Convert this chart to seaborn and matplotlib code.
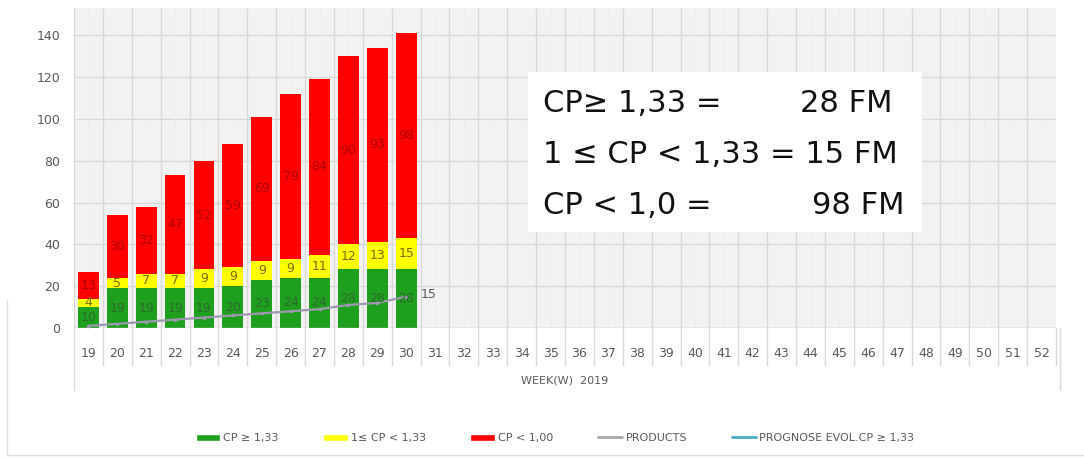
import matplotlib
matplotlib.use("Agg")
import matplotlib.pyplot as plt
import matplotlib.transforms as mtransforms
from matplotlib.patches import Patch, Rectangle
from matplotlib.lines import Line2D
import numpy as np
import pandas as pd
import seaborn as sns

# ---- data -------------------------------------------------------------
all_weeks = [str(w) for w in range(19, 53)]
weeks = ["19", "20", "21", "22", "23", "24", "25", "26", "27", "28", "29", "30"]
cp_good = [10, 19, 19, 19, 19, 20, 23, 24, 24, 28, 28, 28]      # CP >= 1,33
cp_mid = [4, 5, 7, 7, 9, 9, 9, 9, 11, 12, 13, 15]               # 1 <= CP < 1,33
cp_bad = [13, 30, 32, 47, 52, 59, 69, 79, 84, 90, 93, 98]       # CP < 1,00
products = [1, 2, 3, 4, 5, 6, 7, 8, 9, 11, 12, 15]
y_ticks = [0, 20, 40, 60, 80, 100, 120, 140]

summary_left = ["CP\u2265 1,33 =", "1 \u2264 CP < 1,33 = 15 FM", "CP < 1,0 ="]
summary_right = ["28 FM", "", "98 FM"]

legend_labels = ["CP \u2265 1,33", "1\u2264 CP < 1,33", "CP < 1,00",
                 "PRODUCTS", "PROGNOSE EVOL.CP \u2265 1,33"]

GREEN, YELLOW, RED = "#1ea01e", "#ffff00", "#ff0000"
GRID = "#d9d9d9"
TXT = "#595959"

df = pd.DataFrame({"week": weeks, "good": cp_good, "mid": cp_mid, "bad": cp_bad,
                   "products": products})
df["mid_top"] = df["good"] + df["mid"]
df["total"] = df["mid_top"] + df["bad"]

# ---- figure -----------------------------------------------------------
sns.set_theme(style="white")
plt.rcParams["font.family"] = ["DejaVu Sans"]

W, H = 1084, 459
fig = plt.figure(figsize=(W / 100, H / 100), dpi=100)
ax = fig.add_axes([74 / W, 1 - 328 / H, (1056 - 74) / W, (328 - 8) / H])
ax.set_facecolor("#f2f2f2")

# stacked bars: draw cumulative totals on top of each other
bw = 0.72
sns.barplot(data=df, x="week", y="total", order=all_weeks, color=RED,
            width=bw, saturation=1, ax=ax, zorder=3, linewidth=0)
sns.barplot(data=df, x="week", y="mid_top", order=all_weeks, color=YELLOW,
            width=bw, saturation=1, ax=ax, zorder=3, linewidth=0)
sns.barplot(data=df, x="week", y="good", order=all_weeks, color=GREEN,
            width=bw, saturation=1, ax=ax, zorder=3, linewidth=0)

pos = np.array([all_weeks.index(w) for w in weeks])

# products line
sns.lineplot(x=pos, y=df["products"].values, ax=ax, color="#9d98b0",
             linewidth=1.6, zorder=5, marker="o", markersize=2.5,
             markeredgewidth=0)

# segment value labels
for i, p in enumerate(pos):
    g, m, b = cp_good[i], cp_mid[i], cp_bad[i]
    ax.text(p, g / 2, str(g), ha="center", va="center", fontsize=9,
            color="#2d6b2d", zorder=6)
    ax.text(p, g + m / 2, str(m), ha="center", va="center", fontsize=9,
            color="#7a6a00", zorder=6)
    ax.text(p, g + m + b / 2, str(b), ha="center", va="center", fontsize=9,
            color="#b00000", zorder=6)
ax.text(pos[-1] + 0.5, products[-1] + 1, str(products[-1]), ha="left",
        va="center", fontsize=9, color=TXT, zorder=6)

# axes limits, grid
ax.set_xlim(-0.5, len(all_weeks) - 0.5)
ax.set_ylim(0, 153)
ax.set_yticks(y_ticks)
ax.set_yticklabels([str(v) for v in y_ticks])
ax.tick_params(axis="y", length=0, pad=10, labelsize=9, labelcolor=TXT)
ax.tick_params(axis="x", length=0, pad=14, labelsize=9, labelcolor=TXT)
ax.set_xlabel("")
ax.set_ylabel("")
for s in ax.spines.values():
    s.set_visible(False)
for v in y_ticks[1:]:
    ax.axhline(v, color=GRID, linewidth=1, zorder=1)
ax.axhline(0, color="#bfbfbf", linewidth=1, zorder=4)
for k in range(len(all_weeks)):
    ax.axvline(k - 0.5, color=GRID, linewidth=1, zorder=1)
    ax.axvline(k, color="#ebebeb", linewidth=0.5, zorder=1)

# category separators below the axis
trans = mtransforms.blended_transform_factory(ax.transData, ax.transAxes)
for k in range(1, len(all_weeks) + 1):
    ax.plot([k - 0.5, k - 0.5], [0, -0.115], transform=trans, color=GRID,
            linewidth=1, clip_on=False)
for xb in (-0.5, len(all_weeks) - 0.35):
    ax.plot([xb, xb], [0, -0.195], transform=trans, color=GRID,
            linewidth=1, clip_on=False)
ax.text(0.5, -0.165, "WEEK(W)  2019", transform=ax.transAxes, ha="center",
        va="center", fontsize=8, color=TXT)

# summary box
ax.add_patch(Rectangle((0.462, 0.30), 0.4015, 0.50, transform=ax.transAxes,
                       facecolor="white", edgecolor="none", zorder=7))
ys = [0.703, 0.541, 0.384]
rx = [0.834, None, 0.846]
for y, lt, rt, r in zip(ys, summary_left, summary_right, rx):
    ax.text(0.4776, y, lt, transform=ax.transAxes, ha="left", va="center",
            fontsize=22, color="#111111", zorder=8)
    if rt:
        ax.text(r, y, rt, transform=ax.transAxes, ha="right", va="center",
                fontsize=22, color="#111111", zorder=8)

# legend
handles = [Patch(facecolor=GREEN), Patch(facecolor=YELLOW), Patch(facecolor=RED),
           Line2D([], [], color="#a6a6a6", linewidth=2),
           Line2D([], [], color="#4bacc6", linewidth=2)]
leg = fig.legend(handles, legend_labels, loc="center", ncol=5,
                 bbox_to_anchor=(0.512, 1 - 438 / H), frameon=False,
                 fontsize=8, handlelength=2.2, handleheight=0.6,
                 columnspacing=4.0, handletextpad=0.3)
for t in leg.get_texts():
    t.set_color(TXT)

# outer frame lines
fig.add_artist(Line2D([7 / W, 7 / W], [1 - 455 / H, 1 - 300 / H],
                      transform=fig.transFigure, color="#e0e0e0", linewidth=1))
fig.add_artist(Line2D([7 / W, 1], [1 - 455 / H, 1 - 455 / H],
                      transform=fig.transFigure, color="#e0e0e0", linewidth=1))

fig.savefig("out.png", dpi=100, facecolor="white")
